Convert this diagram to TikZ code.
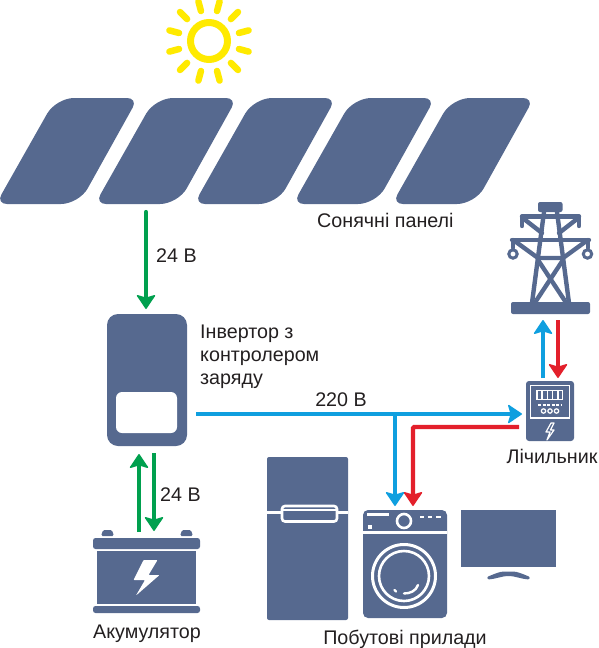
\documentclass[tikz,border=0pt]{standalone}
\usepackage{fontspec}
\setmainfont{Liberation Sans}
\usetikzlibrary{arrows.meta,calc}
\definecolor{slateb}{HTML}{56698F}
\definecolor{flowblue}{HTML}{0F9FDF}
\definecolor{flowred}{HTML}{E3202B}
\definecolor{flowgreen}{HTML}{00A04E}
\definecolor{sunc}{HTML}{FFEA00}
\definecolor{ink}{HTML}{231F20}
\tikzset{
  lab/.style={font=\fontsize{19.7}{23}\selectfont,text=ink,inner sep=0pt},
  flow/.style={line width=4.2pt,-{Stealth[length=15pt,width=20pt,inset=3pt,round,line width=1.4pt]}},
  bluef/.style={flow,draw=flowblue},
  redf/.style={flow,draw=flowred},
  greenf/.style={flow,draw=flowgreen},
  unit/.style={fill=slateb,draw=none,inner sep=0pt,rectangle},
  tw/.style={draw=slateb,line width=4.4pt,line cap=round,line join=round},
  wl/.style={draw=white,line width=2.6pt,fill=none},
}
\begin{document}
\begin{tikzpicture}[x=1pt,y=-1pt]
\useasboundingbox (0,0) rectangle (599,648);
% sun
\draw[sunc,line width=7pt] (209,41) circle (18.5);
\foreach \a in {15,45,...,345}
  \draw[sunc,line width=6.5pt,line cap=round] ($(209,41)+(\a:31)$) -- ($(209,41)+(\a:41)$);
% panels
\foreach \i in {0,...,4}
  \fill[slateb,xshift=99*\i pt] (95,98) [rounded corners=11pt] -- (138,98)
    [rounded corners=18pt] -- (79,204) [rounded corners=11pt] -- (-4,204)
    [rounded corners=18pt] -- (56,98) [sharp corners] -- cycle;
\node[lab,anchor=base west] (panelslabel) at (317,227) {Сонячні панелі};
% inverter
\node[unit,rounded corners=11pt,minimum width=80pt,minimum height=132pt] (inverter) at (147,380) {};
\node[fill=white,inner sep=0pt,rounded corners=6pt,minimum width=61pt,minimum height=41pt] (window) at (146.5,412.5) {};
\node[lab,anchor=base west,align=left] (inverterlabel) at (200,338) {Інвертор з};
\node[lab,anchor=base west,align=left] (inverterlabelb) at (200,361) {контролером};
\node[lab,anchor=base west,align=left] (inverterlabelc) at (200,384) {заряду};
% battery
\node[unit,minimum width=99pt,minimum height=53pt] (battery) at (146.5,577.5) {};
\fill[slateb,rounded corners=2.5pt] (93,538) rectangle (200,549);
\fill[slateb,rounded corners=2.5pt] (93,606) rectangle (200,613);
\fill[slateb,rounded corners=1.5pt] (101,536) -- (103,530) -- (112,530) -- (114,536) -- cycle;
\fill[slateb,rounded corners=1.5pt] (180,536) -- (182,530) -- (191,530) -- (193,536) -- cycle;
\fill[white,rounded corners=0.8pt] (143.5,560) -- (157.5,560) -- (148.5,575) -- (159.5,575) -- (136,595.5) -- (145,580) -- (133.5,580) -- cycle;
\node[lab,anchor=base] (batterylabel) at (147,638) {Акумулятор};
% fridge
\node[unit,rounded corners=2pt,minimum width=81pt,minimum height=163pt] (fridge) at (307.5,538.5) {};
\draw[white,line width=3pt] (267,512.5) -- (348,512.5);
\draw[white,line width=2.6pt,fill=slateb,rounded corners=3pt] (282,506) rectangle (337,521.5);
\draw[white,line width=1.2pt] (283,510) -- (336,510);
% washer
\node[unit,rounded corners=5pt,minimum width=84pt,minimum height=108pt] (washer) at (405,564) {};
\draw[white,line width=3pt] (363,532.5) -- (447,532.5);
\fill[white] (367,513) rectangle (389,515.5);
\fill[white] (367.5,525) rectangle (371.5,528.5);
\foreach \x in {419.5,427.5,436}
  \fill[white] (\x,515.5) rectangle +(4.5,2.5);
\draw[wl] (404,521) circle (7);
\draw[wl,line width=3pt] (404,576) circle (31.5);
\draw[wl] (404,576) circle (25);
\draw[white,line width=2.4pt,line cap=round] (404,593.5) .. controls (410,593.5) and (416,591) .. (418,585);
\draw[white,line width=2.4pt,line cap=round] (394.5,590) -- (396,591.5);
\node[lab,anchor=base] (applianceslabel) at (405,644) {Побутові прилади};
% TV
\node[unit,minimum width=95pt,minimum height=57pt] (tv) at (508.5,538.5) {};
\fill[slateb,rounded corners=1pt] (487,577) .. controls (494,574) and (500,571.5) .. (505,571.5) .. controls (507,571.5) and (510,571.5) .. (512,571.5)
  .. controls (517,571.5) and (523,574) .. (530,577) -- (529,579.5) .. controls (522,579) and (514,576) .. (508.5,576) .. controls (503,576) and (495,579) .. (488,579.5) -- cycle;
% meter
\node[unit,rounded corners=3pt,minimum width=48pt,minimum height=60pt] (meter) at (550,411) {};
\draw[white,line width=1.6pt] (530.5,385.5) rectangle (569.5,418);
\draw[white,line width=1.2pt] (537,390.5) rectangle (562.5,399.5);
\foreach \x in {542,547.3,552.6,557.9}
  \draw[white,line width=1.6pt] (\x,390.5) -- (\x,399.5);
\draw[white,line width=1.5pt,dash pattern=on 3pt off 1.5pt] (538,405) -- (562,405);
\foreach \x in {543.5,550,556.5}
  \draw[white,line width=1.2pt] (\x,411) circle (2.2);
\draw[white,line width=1.2pt,line join=round] (551,423) -- (546,432) -- (550,432) -- (547,440) -- (554,430) -- (550.5,430) -- (554,423) -- cycle;
\node[lab,anchor=base] (meterlabel) at (552,463) {Лічильник};
% tower
\fill[slateb,rounded corners=2pt] (538,202) rectangle (562.5,212);
\fill[slateb,rounded corners=2pt] (511,302) rectangle (590,314);
\draw[tw] (544,212) -- (532,303);
\draw[tw] (557,212) -- (569,303);
\draw[tw] (522,216.5) -- (579,216.5);
\draw[tw] (522,216.5) -- (522,226);
\draw[tw] (579,216.5) -- (579,226);
\draw[tw] (524,219) -- (542,233);
\draw[tw] (577,219) -- (559,233);
\draw[tw] (512,240) -- (589,240);
\draw[tw] (513,240) -- (513,248);
\draw[tw] (588,240) -- (588,248);
\draw[tw] (516,242) -- (538,258) -- (563,258) -- (585,242);
\draw[tw] (538,260) -- (565,301);
\draw[tw] (563,260) -- (536,301);
\draw[slateb,line width=3pt] (513,254) circle (4.2);
\draw[slateb,line width=3pt] (587.5,254) circle (4.2);
% connectors
\coordinate (panelsout) at (146,212);
\coordinate (inverterin) at (146,309);
\coordinate (invup) at (139,454);
\coordinate (batup) at (139,532);
\coordinate (invdown) at (154,453);
\coordinate (batdown) at (154,531);
\coordinate (invout) at (196,414);
\coordinate (meterin) at (522,414);
\coordinate (branchb) at (395,414);
\coordinate (washb) at (395,506);
\coordinate (meterr) at (519,427);
\coordinate (cornerr) at (413,427);
\coordinate (washr) at (413,506);
\coordinate (meterup) at (543,378);
\coordinate (towerb) at (543,320);
\coordinate (towerr) at (558,320);
\coordinate (meterdown) at (558,378);
\draw[greenf,line cap=round] (panelsout) -- (inverterin);
\draw[greenf] (batup) -- (invup);
\draw[greenf] (invdown) -- (batdown);
\draw[bluef] (invout) -- (meterin);
\draw[bluef] (branchb) -- (washb);
\draw[redf,rounded corners=1pt] (meterr) -- (cornerr) -- (washr);
\draw[bluef] (meterup) -- (towerb);
\draw[redf] (towerr) -- (meterdown);
\node[lab,anchor=base west] (v1) at (156,262) {24 В};
\node[lab,anchor=base west] (v2) at (160,501) {24 В};
\node[lab,anchor=base] (v3) at (341,406) {220 В};
\end{tikzpicture}
\end{document}
